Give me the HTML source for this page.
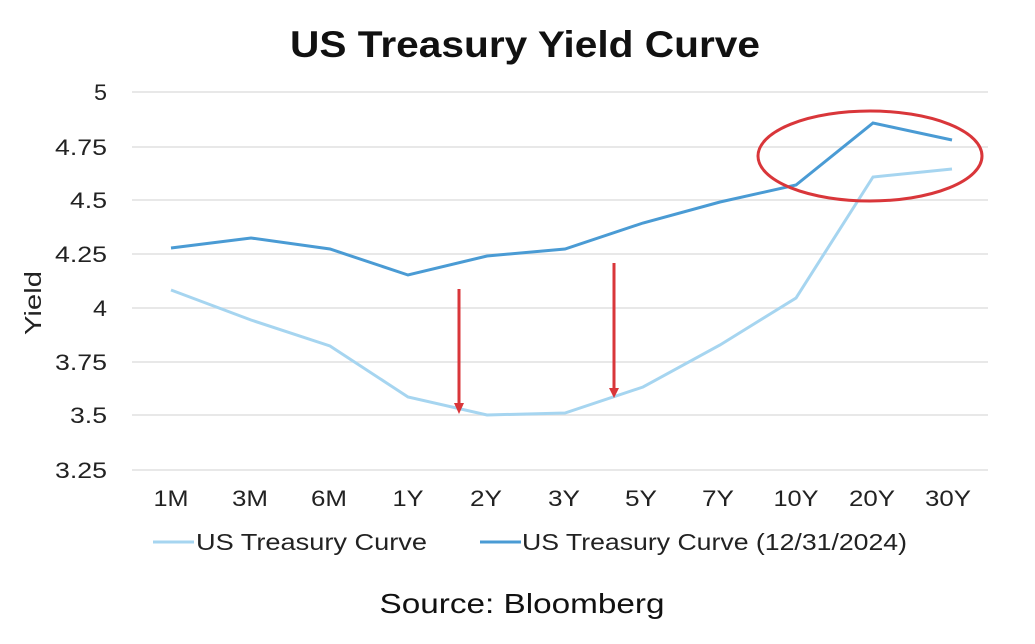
<!DOCTYPE html>
<html><head><style>
html,body{margin:0;padding:0;background:#fff;}
svg{display:block;font-family:"Liberation Sans",sans-serif;}
</style></head><body>
<svg width="1035" height="644" viewBox="0 0 1035 644">
<text x="525" y="57" text-anchor="middle" font-size="37" font-weight="bold" fill="#111" textLength="470" lengthAdjust="spacingAndGlyphs">US Treasury Yield Curve</text>
<g stroke="#e0e0e0" stroke-width="1.5">
<line x1="132" x2="988" y1="92" y2="92"/><line x1="132" x2="988" y1="147" y2="147"/>
<line x1="132" x2="988" y1="200" y2="200"/><line x1="132" x2="988" y1="254" y2="254"/>
<line x1="132" x2="988" y1="308" y2="308"/><line x1="132" x2="988" y1="362" y2="362"/>
<line x1="132" x2="988" y1="415" y2="415"/><line x1="132" x2="988" y1="470" y2="470"/>
</g>
<g font-size="22" fill="#222" text-anchor="end" lengthAdjust="spacingAndGlyphs">
<text x="107" y="100" textLength="13" lengthAdjust="spacingAndGlyphs">5</text>
<text x="107" y="155" textLength="52" lengthAdjust="spacingAndGlyphs">4.75</text>
<text x="107" y="208" textLength="37" lengthAdjust="spacingAndGlyphs">4.5</text>
<text x="107" y="262" textLength="52" lengthAdjust="spacingAndGlyphs">4.25</text>
<text x="107" y="316" textLength="14" lengthAdjust="spacingAndGlyphs">4</text>
<text x="107" y="370" textLength="52" lengthAdjust="spacingAndGlyphs">3.75</text>
<text x="107" y="423" textLength="37" lengthAdjust="spacingAndGlyphs">3.5</text>
<text x="107" y="478" textLength="52" lengthAdjust="spacingAndGlyphs">3.25</text>
</g>
<text transform="translate(41,303) rotate(-90)" text-anchor="middle" font-size="23" fill="#222" textLength="64" lengthAdjust="spacingAndGlyphs">Yield</text>
<g font-size="22" fill="#222" text-anchor="middle">
<text x="171" y="506" textLength="35" lengthAdjust="spacingAndGlyphs">1M</text>
<text x="250" y="506" textLength="36" lengthAdjust="spacingAndGlyphs">3M</text>
<text x="329" y="506" textLength="36" lengthAdjust="spacingAndGlyphs">6M</text>
<text x="408" y="506" textLength="31" lengthAdjust="spacingAndGlyphs">1Y</text>
<text x="486" y="506" textLength="32" lengthAdjust="spacingAndGlyphs">2Y</text>
<text x="564" y="506" textLength="32" lengthAdjust="spacingAndGlyphs">3Y</text>
<text x="641" y="506" textLength="32" lengthAdjust="spacingAndGlyphs">5Y</text>
<text x="718" y="506" textLength="32" lengthAdjust="spacingAndGlyphs">7Y</text>
<text x="796" y="506" textLength="45" lengthAdjust="spacingAndGlyphs">10Y</text>
<text x="872" y="506" textLength="46" lengthAdjust="spacingAndGlyphs">20Y</text>
<text x="948" y="506" textLength="46" lengthAdjust="spacingAndGlyphs">30Y</text>
</g>
<polyline fill="none" stroke="#a6d5f0" stroke-width="3" points="171,290 251,320 330,346 408,397 487,415 565,413 643,387 720,345 796,298 873,177 952,169"/>
<polyline fill="none" stroke="#4a9bd4" stroke-width="3" points="171,248 251,238 330,249 408,275 487,256 565,249 643,223 720,202 796,185 873,123 952,140"/>
<g stroke="#d9363a" stroke-width="3" fill="#d9363a">
<line x1="459" y1="289" x2="459" y2="405"/><polygon points="454,403 464,403 459,414" stroke="none"/>
<line x1="614" y1="263" x2="614" y2="390"/><polygon points="609,388 619,388 614,398" stroke="none"/>
<ellipse cx="870" cy="156" rx="112" ry="45" fill="none"/>
</g>
<line x1="153" x2="194" y1="542" y2="542" stroke="#a6d5f0" stroke-width="3"/>
<text x="196" y="550" font-size="23" fill="#222" textLength="231" lengthAdjust="spacingAndGlyphs">US Treasury Curve</text>
<line x1="480" x2="521" y1="542" y2="542" stroke="#4a9bd4" stroke-width="3"/>
<text x="522" y="550" font-size="23" fill="#222" textLength="385" lengthAdjust="spacingAndGlyphs">US Treasury Curve (12/31/2024)</text>
<text x="522" y="613" text-anchor="middle" font-size="28" fill="#111" textLength="285" lengthAdjust="spacingAndGlyphs">Source: Bloomberg</text>
</svg>
</body></html>
